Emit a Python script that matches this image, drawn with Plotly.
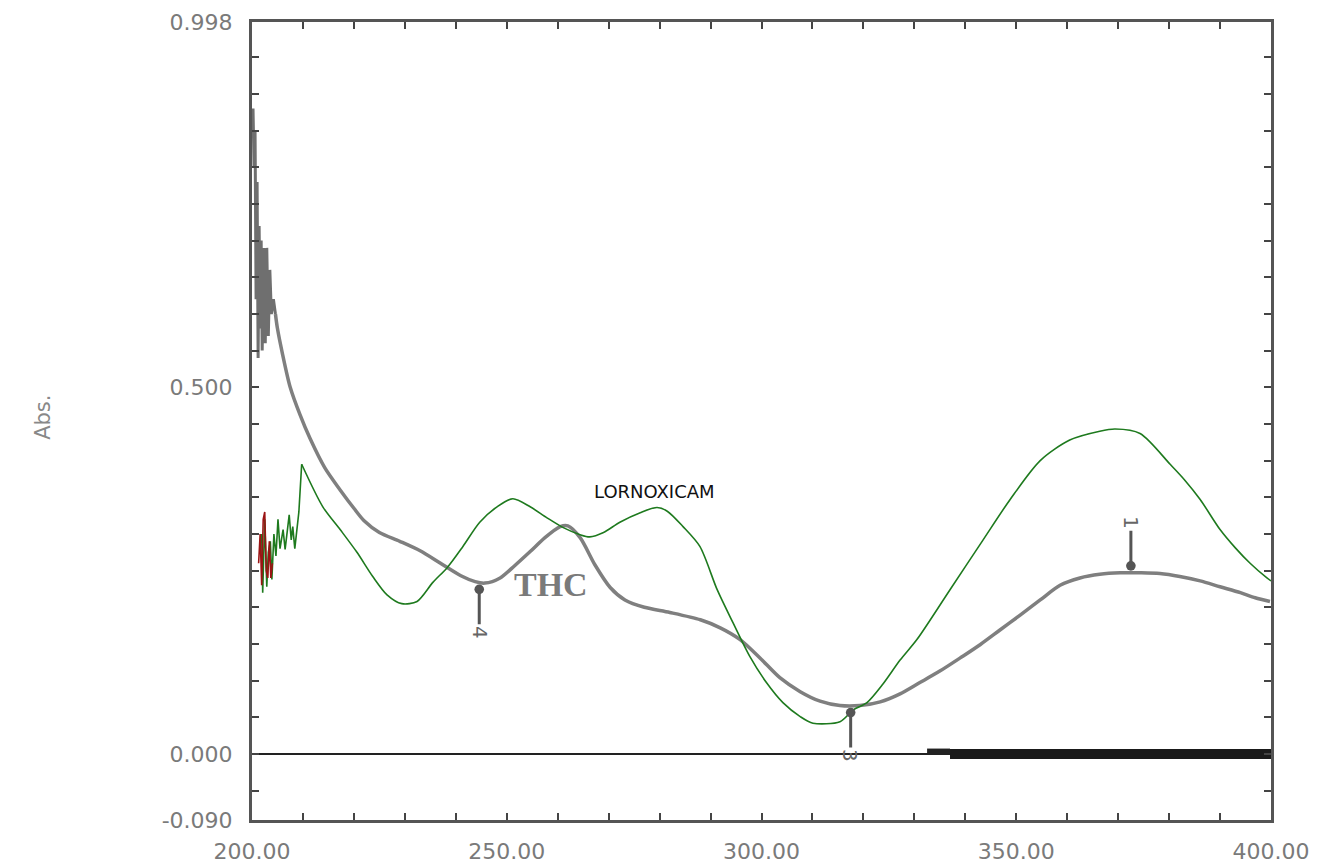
import plotly.graph_objects as go

# ---------------- data ----------------
thc_noise_x = [200.2, 200.4, 200.6, 200.8, 201.0, 201.2, 201.4, 201.6, 201.8, 202.0, 202.3, 202.6,
               202.9, 203.2, 203.5, 203.8, 204.2, 204.6]
thc_noise_y = [0.88, 0.80, 0.85, 0.62, 0.78, 0.54, 0.72, 0.58, 0.70, 0.55, 0.69, 0.56,
               0.69, 0.57, 0.66, 0.60, 0.62, 0.60]
thc_x = [204.6, 205.0, 206.0, 207.5, 209.4, 211.4, 214.3, 217.3, 220.0,
         222.0, 225.0, 229.0, 233.0, 237.0, 241.0, 243.8, 245.7, 248.7, 251.6, 254.6, 257.5, 260.5,
         262.0, 264.4, 267.3, 270.3, 273.2, 277.0, 282.0, 288.0, 291.9, 295.8, 299.7, 303.6, 307.6,
         311.5, 315.4, 319.3, 323.3, 327.2, 331.0, 335.0, 339.0, 342.9, 346.8, 350.7, 354.7, 358.6,
         362.5, 366.4, 370.4, 374.3, 378.2, 382.1, 386.1, 390.0, 394.0, 396.9, 399.8]
thc_y = [0.60, 0.58, 0.545, 0.50, 0.463, 0.43, 0.39, 0.36, 0.335,
         0.318, 0.302, 0.29, 0.277, 0.26, 0.243, 0.235, 0.233, 0.24, 0.257, 0.276, 0.295, 0.31,
         0.311, 0.295, 0.258, 0.227, 0.21, 0.20, 0.193, 0.183, 0.172, 0.156, 0.131, 0.104, 0.085,
         0.072, 0.066, 0.066, 0.071, 0.082, 0.097, 0.113, 0.131, 0.149, 0.169, 0.189, 0.21, 0.23,
         0.24, 0.245, 0.247, 0.247, 0.246, 0.242, 0.236, 0.228, 0.22, 0.213, 0.208]

lorn_noise_x = [201.9, 202.1, 202.5, 202.9, 203.2, 203.6, 203.9, 204.3, 204.7, 205.1, 205.5, 206.1,
                206.5, 207.3, 207.7, 208.0, 208.4, 208.8, 209.2, 209.75]
lorn_noise_y = [0.30, 0.22, 0.32, 0.228, 0.275, 0.29, 0.238, 0.30, 0.27, 0.32, 0.28, 0.306,
                0.279, 0.326, 0.292, 0.31, 0.28, 0.31, 0.33, 0.395]
lorn_x = [209.75, 213.9, 217.3, 220.6, 223.7, 226.5, 229.4,
          232.4, 235.5, 238.3, 241.4, 244.7, 248.1, 251.2, 254.6, 257.9, 261.0, 264.4, 266.3, 269.0,
          272.2, 276.2, 279.5, 281.5, 284.6, 287.9, 291.3, 294.4, 297.7, 301.0, 304.2, 307.6, 310.1,
          315.4, 318.0, 320.7, 323.8, 327.2, 330.5, 337.0, 343.5, 348.8, 354.7, 360.5, 366.4, 369.4,
          374.3, 380.2, 383.0, 386.1, 390.0, 393.0, 395.9, 399.2, 400.0]
lorn_y = [0.395, 0.337, 0.306, 0.275, 0.242, 0.217, 0.205,
          0.208, 0.234, 0.254, 0.283, 0.316, 0.337, 0.348, 0.337, 0.322, 0.309, 0.299, 0.296, 0.302,
          0.316, 0.329, 0.336, 0.331, 0.31, 0.283, 0.224, 0.179, 0.133, 0.097, 0.07, 0.051, 0.042,
          0.044, 0.06, 0.07, 0.095, 0.128, 0.156, 0.224, 0.292, 0.347, 0.40, 0.428, 0.44, 0.443,
          0.437, 0.395, 0.374, 0.347, 0.306, 0.281, 0.26, 0.24, 0.236]

noise_red_x = [201.3, 201.6, 201.9, 202.2, 202.5, 202.8, 203.1, 203.4, 203.7, 204.0]
noise_red_y = [0.26, 0.30, 0.23, 0.32, 0.33, 0.25, 0.24, 0.29, 0.24, 0.26]

baseline_x = [200.0, 400.0]
baseline_y = [0.0, 0.0]
band_x = [337.0, 400.0]
band_y = [0.0, 0.0]
blob_x = [332.5, 337.0]
blob_y = [0.004, 0.004]

peak_labels = ["1", "3", "4"]
peak_x = [372.5, 317.5, 244.6]
peak_y = [0.247, 0.066, 0.234]
peak_dir = [-1, 1, 1]

x_ticks = list(range(200, 401, 10))
x_labels = ["%.2f" % v if v % 50 == 0 else "" for v in x_ticks]
y_ticks = [-0.09] + [round(k * 0.05, 2) for k in range(-1, 20)] + [0.998]
y_label_map = {-0.09: "-0.090", 0.0: "0.000", 0.5: "0.500", 0.998: "0.998"}
y_labels = [y_label_map.get(v, "") for v in y_ticks]

# ---------------- figure ----------------
fig = go.Figure()
fig.add_trace(go.Scatter(x=baseline_x, y=baseline_y, mode="lines",
                         line=dict(color="#222222", width=2), showlegend=False))
fig.add_trace(go.Scatter(x=blob_x, y=blob_y, mode="lines",
                         line=dict(color="#222222", width=5), showlegend=False))
fig.add_trace(go.Scatter(x=band_x, y=band_y, mode="lines",
                         line=dict(color="#1a1a1a", width=10), showlegend=False))
fig.add_trace(go.Scatter(x=thc_noise_x, y=thc_noise_y, mode="lines",
                         line=dict(color="#6f6f6f", width=3), showlegend=False))
fig.add_trace(go.Scatter(x=thc_x, y=thc_y, mode="lines", name="THC",
                         line=dict(color="#7f7f7f", width=3.5, shape="spline", smoothing=0.8),
                         showlegend=False))
fig.add_trace(go.Scatter(x=lorn_noise_x, y=lorn_noise_y, mode="lines",
                         line=dict(color="#1e7a1e", width=1.6), showlegend=False))
fig.add_trace(go.Scatter(x=lorn_x, y=lorn_y, mode="lines", name="LORNOXICAM",
                         line=dict(color="#1e7a1e", width=1.6, shape="spline", smoothing=0.8),
                         showlegend=False))
fig.add_trace(go.Scatter(x=noise_red_x, y=noise_red_y, mode="lines",
                         line=dict(color="#9b1414", width=1.6), showlegend=False))

axis_font = dict(family="DejaVu Sans", size=22, color="#7a7a7a")

fig.update_xaxes(range=[200, 400], tickmode="array", tickvals=x_ticks, ticktext=x_labels,
                 ticks="inside", ticklen=7, tickwidth=2, tickcolor="#444444",
                 showline=True, linecolor="#555555", linewidth=3, mirror="ticks",
                 showgrid=False, zeroline=False, tickfont=axis_font, ticklabelstandoff=10,
                 automargin=False)
fig.update_yaxes(range=[-0.09, 0.998], tickmode="array", tickvals=y_ticks, ticktext=y_labels,
                 ticks="inside", ticklen=7, tickwidth=2, tickcolor="#444444",
                 showline=True, linecolor="#555555", linewidth=3, mirror="ticks",
                 showgrid=False, zeroline=False, tickfont=axis_font, ticklabelstandoff=12,
                 automargin=False)

annotations = [
    dict(x=258.7, y=0.231, xref="x", yref="y", text="<b>THC</b>", showarrow=False,
         font=dict(family="Liberation Serif", size=34, color="#7a7a7a")),
    dict(x=279.0, y=0.358, xref="x", yref="y", text="LORNOXICAM", showarrow=False,
         font=dict(family="DejaVu Sans", size=18, color="#111111")),
    dict(x=-0.219, y=0.505, xref="paper", yref="paper", text="Abs.", showarrow=False,
         textangle=-90, font=dict(family="DejaVu Sans", size=21, color="#888888")),
]
for lab, px, py, d in zip(peak_labels, peak_x, peak_y, peak_dir):
    annotations.append(dict(x=px, y=py, xref="x", yref="y", text=lab, showarrow=True,
                            ax=0, ay=50 * d, arrowhead=6, arrowsize=0.8, arrowwidth=3,
                            arrowcolor="#555555", standoff=7, textangle=90,
                            font=dict(family="DejaVu Sans", size=20, color="#666666")))
# the page body adds an 8 px offset, so the figure is sized to end at the window edge
fig.update_layout(width=1325, height=857, margin=dict(l=244, r=62, t=14, b=45),
                  paper_bgcolor="white", plot_bgcolor="white", annotations=annotations)

fig.write_html("out.html")
